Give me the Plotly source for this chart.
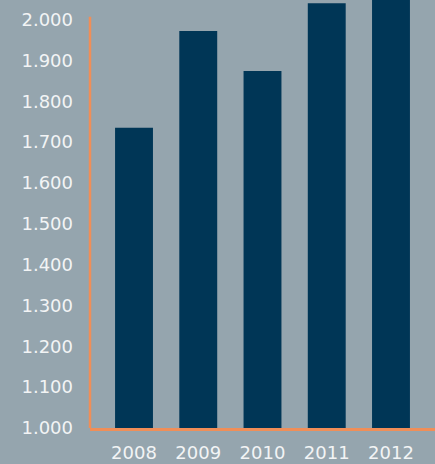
import plotly.graph_objects as go

years = ["2008", "2009", "2010", "2011", "2012"]
values = [1735, 1972, 1874, 2040, 2100]
y_ticks = [1000, 1100, 1200, 1300, 1400, 1500, 1600, 1700, 1800, 1900, 2000]

bg = "#95A5AE"
bar_color = "#003656"
axis_color = "#F08E58"
text_color = "#F2F4F5"
font_family = "DejaVu Sans"

fig = go.Figure(go.Bar(x=years, y=values, marker_color=bar_color, marker_line_width=0,
                       hoverinfo="skip"))

fig.update_layout(
    width=435, height=464,
    margin=dict(l=90, r=0, t=0, b=36, autoexpand=False),
    paper_bgcolor=bg, plot_bgcolor=bg,
    bargap=0.41,
    separators=",.",
    showlegend=False,
    font=dict(family=font_family, size=18, color=text_color),
)
fig.update_xaxes(
    type="category", range=[-0.685, 4.685], automargin=False,
    showline=True, linecolor=axis_color, linewidth=2.5,
    showgrid=False, ticks="", ticklabelstandoff=7,
    tickfont=dict(family=font_family, size=18, color=text_color),
)
fig.update_yaxes(
    range=[1000, 2048], tickvals=y_ticks, tickformat=",d", automargin=False,
    showline=False, showgrid=False, zeroline=False, ticks="",
    ticklabelstandoff=16,
    tickfont=dict(family=font_family, size=18, color=text_color),
)
fig.add_shape(type="line", xref="paper", yref="y", x0=0, x1=0, y0=1000, y1=2007,
              line=dict(color=axis_color, width=2.5))

fig.write_html("out.html", config={"displayModeBar": False},
               post_script="document.body.style.margin='0';document.body.style.background='%s';" % bg)
